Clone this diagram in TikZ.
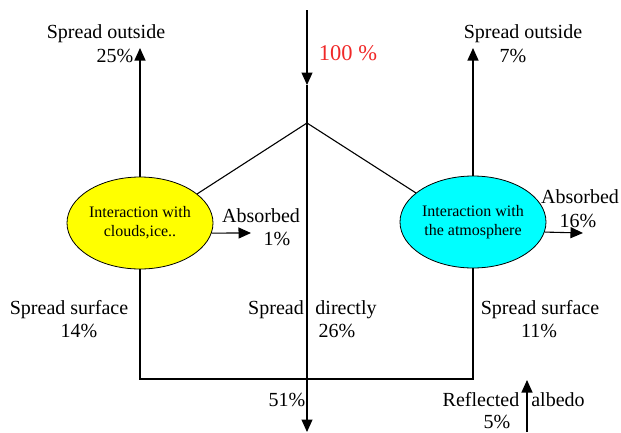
\documentclass[tikz,border=0pt]{standalone}
\usepackage{fontspec}
\setmainfont{Liberation Serif}
\usetikzlibrary{arrows.meta,shapes.geometric}
\definecolor{redtxt}{RGB}{240,40,40}
\definecolor{ellyel}{RGB}{255,255,0}
\definecolor{ellcyan}{RGB}{0,255,255}
\tikzset{
  lbl/.style={anchor=base,inner sep=0pt,font=\fontsize{20}{24}\selectfont},
  bigred/.style={anchor=base,inner sep=0pt,text=redtxt,font=\fontsize{22.5}{26}\selectfont},
  ellbox/.style={ellipse,draw=black,line width=0.8pt,minimum width=146pt,minimum height=92pt,inner sep=0pt,align=center,font=\fontsize{16}{19}\selectfont},
  conn/.style={line width=1.1pt,black},
  arr/.style={conn,-{Triangle[length=12.5pt,width=11pt]}},
}
\begin{document}
\begin{tikzpicture}[x=1pt,y=-1pt]
\useasboundingbox (0,0) rectangle (621,432);
% key points
\coordinate (top) at (307,10);
\coordinate (mid) at (307,85);
\coordinate (apex) at (307,123);
\coordinate (bot) at (307,432);
\coordinate (outL) at (140,48);
\coordinate (outR) at (473,48);
\coordinate (absL) at (251,233);
\coordinate (absR) at (583,233);
\coordinate (jr) at (473,379);
\coordinate (albB) at (527,432);
\coordinate (albT) at (527,380);
% ellipses
\node[ellbox,fill=ellyel] (cl) at (140,223) {Interaction with\\clouds,ice..};
\node[ellbox,fill=ellcyan] (cr) at (473,222) {Interaction with\\the atmosphere};
% connectors
\draw[arr] (top) -- (mid);
\draw[conn] (mid) -- (apex);
\draw[arr] (apex) -- (bot);
\draw[conn] (apex) -- (cl.27);
\draw[conn] (apex) -- (cr.153);
\draw[arr] (cl.north) -- (outL);
\draw[arr] (cr.north) -- (outR);
\draw[arr] (cl.-8) -- (absL);
\draw[arr] (cr.-8) -- (absR);
\draw[conn] (cl.south) |- (jr) -- (cr.south);
\draw[arr] (albB) -- (albT);
% labels
\node[lbl] (so1) at (106,38) {Spread outside};
\node[lbl] (so1p) at (115,62) {25\%};
\node[bigred] (hund) at (348,60) {100 \%};
\node[lbl] (so2) at (523,38) {Spread outside};
\node[lbl] (so2p) at (513,62) {7\%};
\node[lbl] (ab1) at (261,222) {Absorbed};
\node[lbl] (ab1p) at (277,245) {1\%};
\node[lbl] (ab2) at (580,203) {Absorbed};
\node[lbl] (ab2p) at (578,227) {16\%};
\node[lbl] (ss1) at (69,314) {Spread surface};
\node[lbl] (ss1p) at (79,337) {14\%};
\node[lbl] (sd1) at (276,314) {Spread};
\node[lbl] (sd2) at (346,314) {directly};
\node[lbl] (sdp) at (337,337) {26\%};
\node[lbl] (ss2) at (540,314) {Spread surface};
\node[lbl] (ss2p) at (539,337) {11\%};
\node[lbl] (fifty) at (287,406) {51\%};
\node[lbl] (refl) at (481,406) {Reflected};
\node[lbl] (albd) at (558,406) {albedo};
\node[lbl] (albp) at (497,428) {5\%};
\end{tikzpicture}
\end{document}
